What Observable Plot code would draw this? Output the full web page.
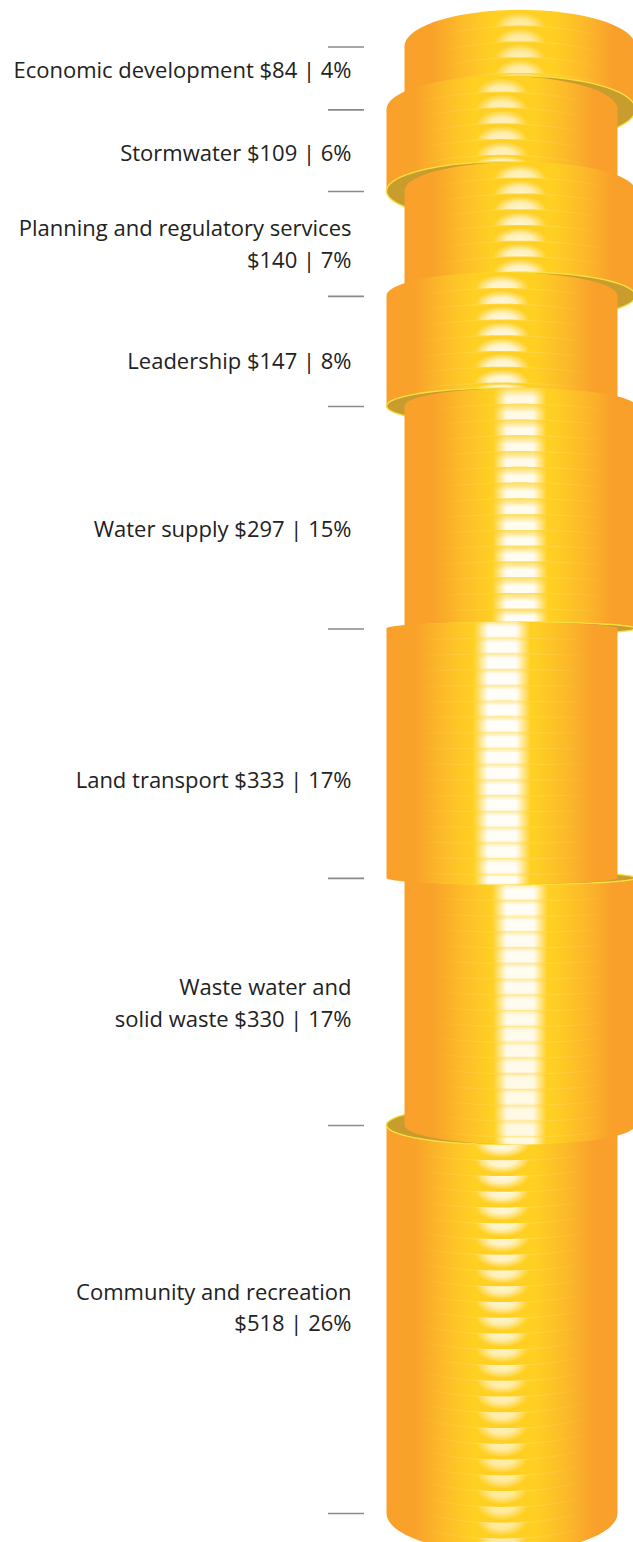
<!DOCTYPE html>
<html>
<head>
<meta charset="utf-8">
<script src="https://cdn.jsdelivr.net/npm/d3@7"></script>
<script src="https://cdn.jsdelivr.net/npm/@observablehq/plot@0.6"></script>
<style>
  html, body { margin: 0; padding: 0; background: #fff; }
  svg { display: block; }
</style>
</head>
<body>
<div id="chart"></div>
<script>
// Spending by activity, top of the stack to the bottom
const categories = [
  "Economic development",
  "Stormwater",
  "Planning and regulatory services\n",
  "Leadership",
  "Water supply",
  "Land transport",
  "Waste water and\nsolid waste",
  "Community and recreation\n"
];
const amounts = [84, 109, 140, 147, 297, 333, 330, 518];
const shares = [4, 6, 7, 8, 15, 17, 17, 26];

// Vertical label placement relative to each section's midpoint, in pixels
const labelNudge = [-10, 0, -2, 8, 9, 24, -1, -14];

const total = d3.sum(amounts);
const edges = [0, ...d3.cumsum(amounts)];
const coinValue = 20;      // each ridge on a column stands for about $20
const horizon = 941;       // stack height at eye level
const tilt = 0.052;        // how quickly ellipses open away from eye level
const radius = 115.5;
const centerA = 520;
const centerB = 502;
const centerOf = i => (i % 2 === 0 ? centerA : centerB);

const bulge = c => tilt * (c - horizon);
const angles = d3.range(0, 49).map(i => (Math.PI * i) / 48);

// Outline of one column: both end edges curve away from eye level
function columnOutline(i) {
  const cx = centerOf(i), top = edges[i], bottom = edges[i + 1];
  return angles.map(t => ({
    x: cx + radius * Math.cos(t),
    y1: top + bulge(top) * Math.sin(t),
    y2: bottom + bulge(bottom) * Math.sin(t)
  }));
}

// Full ellipse at the join between two columns
function joinEllipse(j, cx) {
  const r = Math.abs(bulge(edges[j]));
  return angles.map(t => ({
    x: cx + radius * Math.cos(t),
    y1: edges[j] - r * Math.sin(t),
    y2: edges[j] + r * Math.sin(t)
  }));
}

// Ridge bands of one column, as areas near the centre plus full-width seams
function ridgeData(i) {
  const cx = centerOf(i), top = edges[i], bottom = edges[i + 1];
  const count = Math.ceil((bottom - top) / coinValue);
  const bands = [], seams = [];
  const arcAt = (c, x) => c + bulge(c) * Math.sqrt(Math.max(0, 1 - ((x - cx) / radius) ** 2));
  for (let k = 0; k < count; ++k) {
    const a = top + k * coinValue;
    const b = Math.min(bottom, a + coinValue);
    const d = Math.min(1, Math.abs((a + b) / 2 - horizon) / horizon);
    const half = 31 - 6 * d;
    const strength = 1 - 0.38 * d * d;
    for (let s = -10; s <= 10; ++s) {
      const x = cx + (half * s) / 10;
      bands.push({ridge: k, x, y1: arcAt(a, x), y2: arcAt(b, x), strength});
    }
    if (k > 0) {
      for (const t of angles) {
        const x = cx + radius * Math.cos(t);
        seams.push({ridge: k, x, y: a + bulge(a) * Math.sin(t)});
      }
    }
  }
  return {bands, seams};
}

// Columns far from eye level carry dome highlights; near it, soft straight bars
const glowFor = i => (i <= 3 ? "url(#glowUp)" : i <= 6 ? "url(#glowBar)" : "url(#glowDown)");
const veilFor = i => (i === 4 ? "url(#veilTop)" : i <= 6 ? "url(#veilEdges)" : null);

function columnMarks(i) {
  const {bands, seams} = ridgeData(i);
  const veil = veilFor(i);
  return [
    Plot.area(columnOutline(i), {x1: "x", y1: "y1", y2: "y2", fill: "url(#columnBody)", curve: "linear"}),
    Plot.line(seams, {x: "x", y: "y", z: "ridge", stroke: "url(#seam)", strokeWidth: 1}),
    Plot.area(bands, {x1: "x", y1: "y1", y2: "y2", z: "ridge", fill: glowFor(i), fillOpacity: "strength", curve: "linear"}),
    veil && i >= 4 && i <= 6 ? Plot.area(bands, {x1: "x", y1: "y1", y2: "y2", z: "ridge", fill: veil, curve: "linear"}) : null
  ];
}

function joinMarks(j, columnIndex) {
  return Plot.area(joinEllipse(j, centerOf(columnIndex)), {
    x1: "x", y1: "y1", y2: "y2", fill: "#C99C2E", stroke: "#F6DF3E", strokeWidth: 1.4, curve: "linear"
  });
}

const gradients = () => {
  const defs = d3.create("svg:defs");
  defs.html(`
    <linearGradient id="columnBody" x1="0" x2="1" y1="0" y2="0">
      <stop offset="0" stop-color="#F9A02A"/>
      <stop offset="0.13" stop-color="#F9A32A"/>
      <stop offset="0.26" stop-color="#FDBE29"/>
      <stop offset="0.38" stop-color="#FFD022"/>
      <stop offset="0.64" stop-color="#FFD022"/>
      <stop offset="0.78" stop-color="#FCB92A"/>
      <stop offset="0.9" stop-color="#F9A02A"/>
      <stop offset="1" stop-color="#F9A02A"/>
    </linearGradient>
    <linearGradient id="seam" x1="0" x2="1" y1="0" y2="0">
      <stop offset="0.12" stop-color="#FFE48A" stop-opacity="0"/>
      <stop offset="0.4" stop-color="#FFE48A" stop-opacity="0.3"/>
      <stop offset="0.65" stop-color="#FFE48A" stop-opacity="0.3"/>
      <stop offset="0.88" stop-color="#FFE48A" stop-opacity="0"/>
    </linearGradient>
    <radialGradient id="glowUp" cx="0.5" cy="1" r="1" gradientTransform="translate(0.5 1) scale(0.5 0.85) translate(-0.5 -1)">
      <stop offset="0" stop-color="#fff" stop-opacity="1"/>
      <stop offset="0.5" stop-color="#fff" stop-opacity="0.85"/>
      <stop offset="1" stop-color="#fff" stop-opacity="0"/>
    </radialGradient>
    <linearGradient id="glowBar" x1="0" x2="1" y1="0" y2="0">
      <stop offset="0.03" stop-color="#fff" stop-opacity="0"/>
      <stop offset="0.27" stop-color="#fff" stop-opacity="0.97"/>
      <stop offset="0.73" stop-color="#fff" stop-opacity="0.97"/>
      <stop offset="0.97" stop-color="#fff" stop-opacity="0"/>
    </linearGradient>
    <linearGradient id="veilTop" x1="0" x2="0" y1="0" y2="1">
      <stop offset="0" stop-color="#FFD022" stop-opacity="0.75"/>
      <stop offset="0.55" stop-color="#FFD022" stop-opacity="0"/>
    </linearGradient>
    <linearGradient id="veilEdges" x1="0" x2="0" y1="0" y2="1">
      <stop offset="0" stop-color="#FFD022" stop-opacity="0.45"/>
      <stop offset="0.3" stop-color="#FFD022" stop-opacity="0"/>
      <stop offset="0.85" stop-color="#FFD022" stop-opacity="0"/>
      <stop offset="1" stop-color="#FFD022" stop-opacity="0.2"/>
    </linearGradient>
    <radialGradient id="glowDown" cx="0.5" cy="0" r="1" gradientTransform="translate(0.5 0) scale(0.5 0.85) translate(-0.5 0)">
      <stop offset="0" stop-color="#fff" stop-opacity="1"/>
      <stop offset="0.5" stop-color="#fff" stop-opacity="0.85"/>
      <stop offset="1" stop-color="#fff" stop-opacity="0"/>
    </radialGradient>`);
  return defs.node();
};

const labelText = (name, i) =>
  `${name}${name.endsWith("\n") ? "" : " "}$${amounts[i]} | ${shares[i]}%`;

const chart = Plot.plot({
  width: 633,
  height: 1542,
  margin: 0,
  style: {background: "transparent"},
  x: {axis: null, domain: [0, 633], range: [0, 633]},
  y: {axis: null, domain: [0, total], range: [46.5, 1513]},
  marks: [
    gradients,
    // Upper columns stack downward, each one overlapping the one above
    ...columnMarks(0), joinMarks(1, 0),
    ...columnMarks(1), joinMarks(2, 1),
    ...columnMarks(2), joinMarks(3, 2),
    ...columnMarks(3), joinMarks(4, 3),
    ...columnMarks(4), joinMarks(5, 4),
    // Lower columns stack upward toward eye level
    ...columnMarks(7), joinMarks(7, 7),
    ...columnMarks(6), joinMarks(6, 6),
    ...columnMarks(5),
    // Section boundary ticks
    Plot.ruleY(edges, {x1: () => 328, x2: () => 364, stroke: "#8a8a8a", strokeWidth: 1.6}),
    // One text mark per section so each can sit at its own offset
    ...categories.map((name, i) =>
      Plot.text([labelText(name, i)], {
        text: d => d,
        x: () => 351,
        y: () => (edges[i] + edges[i + 1]) / 2,
        dy: labelNudge[i],
        textAnchor: "end",
        lineAnchor: "middle",
        lineHeight: 1.42,
        fontSize: 22,
        fontFamily: "'Open Sans', sans-serif",
        fill: "#222222"
      })
    )
  ]
});
document.getElementById("chart").append(chart);
</script>
</body>
</html>
